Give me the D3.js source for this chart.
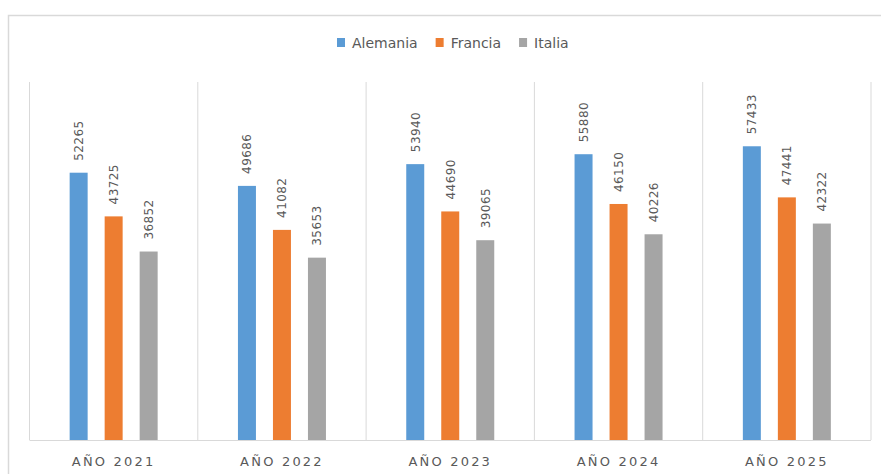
<!DOCTYPE html>
<html>
<head>
<meta charset="utf-8">
<script src="https://cdn.jsdelivr.net/npm/d3@7"></script>
<style>
  html, body { margin: 0; padding: 0; background: #fff; }
  svg { display: block; }
</style>
</head>
<body>
<svg id="chart" width="881" height="474"></svg>
<script>
const categories = ["AÑO 2021", "AÑO 2022", "AÑO 2023", "AÑO 2024", "AÑO 2025"];
const seriesNames = ["Alemania", "Francia", "Italia"];
const alemania = [52265, 49686, 53940, 55880, 57433];
const francia = [43725, 41082, 44690, 46150, 47441];
const italia = [36852, 35653, 39065, 40226, 42322];
const seriesValues = [alemania, francia, italia];
const colors = ["#5B9BD5", "#ED7D31", "#A5A5A5"];

const svg = d3.select("#chart");
const plot = { left: 29.5, right: 871, top: 82, bottom: 440 };

// outer chart border
svg.append("rect")
  .attr("x", 8.5).attr("y", 15.5)
  .attr("width", 900).attr("height", 500)
  .attr("fill", "none").attr("stroke", "#d9d9d9").attr("stroke-width", 1.5);

const x0 = d3.scaleBand().domain(categories).range([plot.left, plot.right]).padding(0);
const x1 = d3.scaleBand().domain(seriesNames).range([0, x0.bandwidth()]).paddingInner(0.486).paddingOuter(1.147);
const y = d3.scaleLinear().domain([0, 70000]).range([plot.bottom, plot.top]);

// vertical category gridlines
const bounds = categories.map(c => x0(c)).concat([x0(categories[categories.length - 1]) + x0.bandwidth()]);
svg.append("g").selectAll("line").data(bounds).join("line")
  .attr("x1", d => d).attr("x2", d => d)
  .attr("y1", y(70000)).attr("y2", y(0))
  .attr("stroke", "#d9d9d9").attr("stroke-width", 1);

// bars
const g = svg.append("g");
categories.forEach((cat, ci) => {
  seriesNames.forEach((s, si) => {
    const v = seriesValues[si][ci];
    const bx = x0(cat) + x1(s);
    g.append("rect")
      .attr("x", bx).attr("y", y(v))
      .attr("width", x1.bandwidth()).attr("height", y(0) - y(v))
      .attr("fill", colors[si]);
    const cx = bx + x1.bandwidth() / 2;
    const ty = y(v) - 12;
    g.append("text")
      .attr("transform", `translate(${cx + 4.5},${ty}) rotate(-90)`)
      .attr("text-anchor", "start")
      .attr("font-family", "DejaVu Sans, sans-serif")
      .attr("font-size", 12)
      .attr("letter-spacing", 0.4)
      .attr("fill", "#595959")
      .text(v);
  });
});

// x axis baseline
svg.append("line")
  .attr("x1", plot.left).attr("x2", plot.right)
  .attr("y1", y(0) + 0.5).attr("y2", y(0) + 0.5)
  .attr("stroke", "#d9d9d9").attr("stroke-width", 1.2);

// x axis labels
const xAxis = d3.axisBottom(x0).tickSize(0).tickPadding(0);
const ax = svg.append("g").attr("transform", `translate(0,${y(0)})`).call(xAxis);
ax.select(".domain").remove();
ax.selectAll("text")
  .attr("y", 26)
  .attr("dy", 0)
  .attr("font-family", "DejaVu Sans, sans-serif")
  .attr("font-size", 13)
  .attr("letter-spacing", 2.2)
  .attr("fill", "#595959");

// legend
const leg = svg.append("g");
let lx = 0;
seriesNames.forEach((s, i) => {
  const it = leg.append("g");
  it.append("rect").attr("x", 0).attr("y", -4.5).attr("width", 8).attr("height", 9).attr("fill", colors[i]);
  const t = it.append("text").attr("x", 15).attr("y", 5)
    .attr("font-family", "DejaVu Sans, sans-serif")
    .attr("font-size", 14)
    .attr("fill", "#595959").text(s);
  it.attr("transform", `translate(${lx},0)`);
  const w = 15 + t.node().getComputedTextLength();
  lx += w + 18;
});
leg.attr("transform", `translate(${337},42.5)`);
</script>
</body>
</html>
